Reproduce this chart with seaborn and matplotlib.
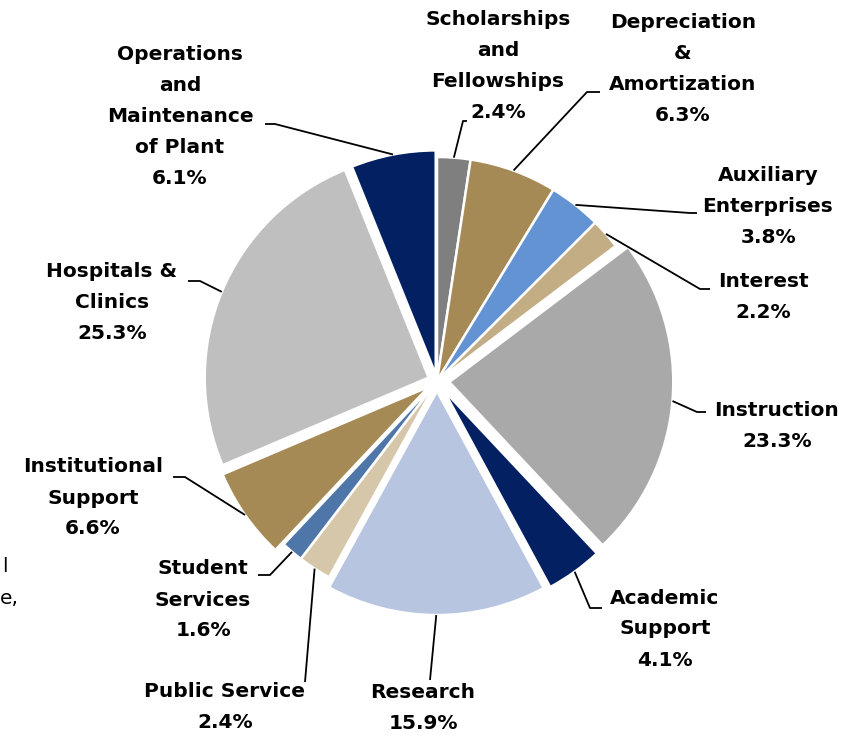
import numpy as np
import matplotlib
matplotlib.use("Agg")
import matplotlib.pyplot as plt
import seaborn as sns

# data, clockwise from 12 o'clock
categories = ["Scholarships\nand\nFellowships", "Depreciation\n&\nAmortization",
              "Auxiliary\nEnterprises", "Interest", "Instruction", "Academic\nSupport",
              "Research", "Public Service", "Student\nServices", "Institutional\nSupport",
              "Hospitals &\nClinics", "Operations\nand\nMaintenance\nof Plant"]
shares = [2.4, 6.3, 3.8, 2.2, 23.3, 4.1, 15.9, 2.4, 1.6, 6.6, 25.3, 6.1]
colors = ["#7f7f7f", "#a58a56", "#6393d3", "#c3ad85", "#a9a9a9", "#022062",
          "#b7c5e1", "#d7c7aa", "#4f76a9", "#a58a56", "#bfbfbf", "#022062"]
explode = [0, 0, 0, 0, 0.055, 0.05, 0.045, 0, 0, 0.045, 0.04, 0.03]

H = 737
CX, CY, R = 437, 381, 224

# label block centres (pixels, y from top) and leader elbows/ends
label_pos = [(498, 66), (683, 69), (768, 206), (763, 297), (777, 426), (665, 629),
             (423, 708), (225, 707), (203, 600), (93, 498), (112, 302), (180, 116)]
leaders = [[(463, 121), (467, 121)], [(587, 92), (600, 92)], [(690, 213), (697, 213)],
           [(700, 289), (710, 289)], [(697, 412), (706, 412)], [(590, 608), (602, 608)],
           [(430, 680)], [(305, 682)], [(270, 575), (258, 575)],
           [(185, 477), (173, 477)], [(200, 281), (188, 281)], [(275, 124), (265, 124)]]

sns.set_theme(style="white")
plt.rcParams['font.family'] = ['DejaVu Sans']

fig = plt.figure(figsize=(8.67, 7.37), dpi=100)
ax = fig.add_axes([0, 0, 1, 1])

# pie explode works in data units, so scale by the radius
wedges, _ = ax.pie(shares, colors=colors, explode=[e * R for e in explode],
                   startangle=90, counterclock=False, radius=R, center=(CX, H - CY),
                   wedgeprops=dict(edgecolor="white", linewidth=1.8))
ax.set_xlim(0, 867)
ax.set_ylim(0, H)
ax.set_aspect("auto")
ax.axis("off")

for w, name, val, (tx, ty), pts in zip(wedges, categories, shares, label_pos, leaders):
    ang = np.deg2rad((w.theta1 + w.theta2) / 2)
    ax_, ay_ = w.center[0] + w.r * np.cos(ang), w.center[1] + w.r * np.sin(ang)
    xs = [ax_] + [p[0] for p in pts]
    ys = [ay_] + [H - p[1] for p in pts]
    ax.plot(xs, ys, color="black", lw=1.3, solid_capstyle="butt")
    ax.text(tx, H - ty, f"{name}\n{val:.1f}%", ha="center", va="center",
            fontsize=14.5, fontweight="bold", linespacing=1.8, color="black")

# partly visible label at the left edge
ax.text(2, H - 567, "l", ha="left", va="center", fontsize=14.5, color="black")
ax.text(0, H - 598, "e,", ha="left", va="center", fontsize=14.5, color="black")

fig.savefig("out.png", dpi=100)
